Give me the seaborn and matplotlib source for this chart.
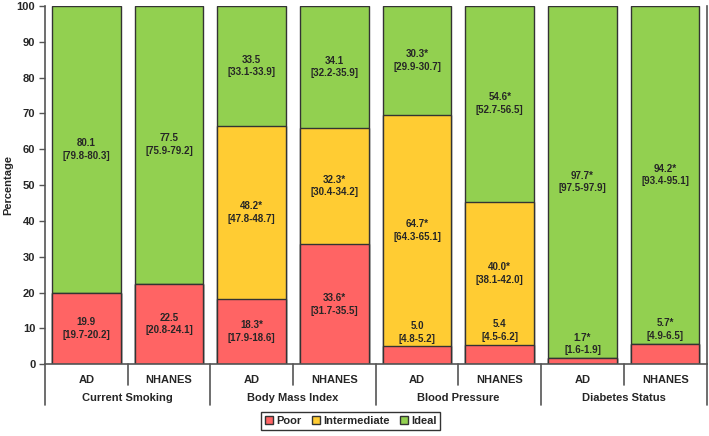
import matplotlib
matplotlib.use("Agg")
import matplotlib.pyplot as plt
from matplotlib.patches import Patch
import seaborn as sns
import pandas as pd

# data
groups = ["Current Smoking", "Body Mass Index", "Blood Pressure", "Diabetes Status"]
cohorts = ["AD", "NHANES"]

poor = [19.9, 22.5, 18.3, 33.6, 5.0, 5.4, 1.7, 5.7]
poor_ci = ["19.7-20.2", "20.8-24.1", "17.9-18.6", "31.7-35.5", "4.8-5.2", "4.5-6.2", "1.6-1.9", "4.9-6.5"]
poor_sig = [False, False, True, True, False, False, True, True]

inter = [0, 0, 48.2, 32.3, 64.7, 40.0, 0, 0]
inter_ci = ["", "", "47.8-48.7", "30.4-34.2", "64.3-65.1", "38.1-42.0", "", ""]
inter_sig = [False, False, True, True, True, True, False, False]

ideal = [80.1, 77.5, 33.5, 34.1, 30.3, 54.6, 97.7, 94.2]
ideal_ci = ["79.8-80.3", "75.9-79.2", "33.1-33.9", "32.2-35.9", "29.9-30.7", "52.7-56.5", "97.5-97.9", "93.4-95.1"]
ideal_sig = [False, False, False, False, True, True, True, True]

colors = {"Poor": "#FF6464", "Intermediate": "#FFCC33", "Ideal": "#92D050"}

bars = [f"{g}|{c}" for g in groups for c in cohorts]
df = pd.DataFrame({"bar": bars, "poor": poor, "inter": inter, "ideal": ideal})
df["poor_top"] = df["poor"]
df["inter_top"] = df["poor"] + df["inter"]
df["ideal_top"] = 100.0  # 100% stacked

sns.set_theme(style="white")
plt.rcParams["font.family"] = ["Liberation Sans", "DejaVu Sans"]
plt.rcParams["font.weight"] = "bold"

fig = plt.figure(figsize=(7.09, 4.36), dpi=100)
ax = fig.add_axes([0.0635, 0.1644, 0.933, 0.822])

edge = "#333333"
for col, name in [("ideal_top", "Ideal"), ("inter_top", "Intermediate"), ("poor_top", "Poor")]:
    sns.barplot(data=df, x="bar", y=col, order=bars, color=colors[name], width=0.83,
                edgecolor=edge, linewidth=1.0, saturation=1, ax=ax)

def lab(v, ci, sig):
    return f"{v:.1f}{'*' if sig else ''}\n[{ci}]"

fs = 7
for i in range(len(bars)):
    p, m, d = poor[i], inter[i], ideal[i]
    # poor label: centred, or just above a thin segment
    if p >= 12:
        ax.text(i, p / 2, lab(p, poor_ci[i], poor_sig[i]), ha="center", va="center",
                fontsize=fs, fontweight="bold", linespacing=1.35)
    else:
        ax.text(i, p + 0.8, lab(p, poor_ci[i], poor_sig[i]), ha="center", va="bottom",
                fontsize=fs, fontweight="bold", linespacing=1.35)
    if m > 0:
        ax.text(i, p + m / 2, lab(m, inter_ci[i], inter_sig[i]), ha="center", va="center",
                fontsize=fs, fontweight="bold", linespacing=1.35)
    top0 = p + m
    ax.text(i, (top0 + 100) / 2, lab(d, ideal_ci[i], ideal_sig[i]), ha="center", va="center",
            fontsize=fs, fontweight="bold", linespacing=1.35)

ax.set_xlim(-0.5, 7.5)
ax.set_ylim(0, 100)
ax.set_yticks(range(0, 101, 10))
ax.tick_params(axis="y", direction="out", length=4, width=1, color="#555555",
               labelsize=8, left=True, pad=3)
for t in ax.get_yticklabels():
    t.set_fontweight("bold")
ax.set_ylabel("")
fig.text(0.011, 0.575, "Percentage", rotation=90, ha="center", va="center",
         fontsize=8, fontweight="bold")

ax.set_xticks(range(len(bars)))
ax.set_xticklabels([b.split("|")[1] for b in bars], fontsize=8, fontweight="bold")
ax.tick_params(axis="x", length=0, pad=8)
ax.set_xlabel("")

for s in ["left", "bottom", "right"]:
    ax.spines[s].set_visible(True)
    ax.spines[s].set_color("#555555")
    ax.spines[s].set_linewidth(1.2)
ax.spines["top"].set_visible(False)

# category separators under the axis
tr = ax.get_xaxis_transform()
for k in range(len(bars) + 1):
    x = k - 0.5
    y_end = -0.114 if k % 2 == 0 else -0.058
    ax.plot([x, x], [0, y_end], transform=tr, color="#555555", lw=1.2, clip_on=False)
for gi, g in enumerate(groups):
    ax.text(gi * 2 + 0.5, -0.094, g, transform=tr, ha="center", va="center",
            fontsize=8, fontweight="bold")

handles = [Patch(facecolor=colors[n], edgecolor=edge, label=n) for n in ["Poor", "Intermediate", "Ideal"]]
leg = fig.legend(handles=handles, loc="center", bbox_to_anchor=(0.495, 0.034), ncol=3,
                 frameon=True, fancybox=False, edgecolor="black",
                 handlelength=0.7, handleheight=0.7, handletextpad=0.25, columnspacing=1.0,
                 borderpad=0.35, prop={"weight": "bold", "size": 8})
leg.get_frame().set_linewidth(1.0)

fig.savefig("out.png", dpi=100)
